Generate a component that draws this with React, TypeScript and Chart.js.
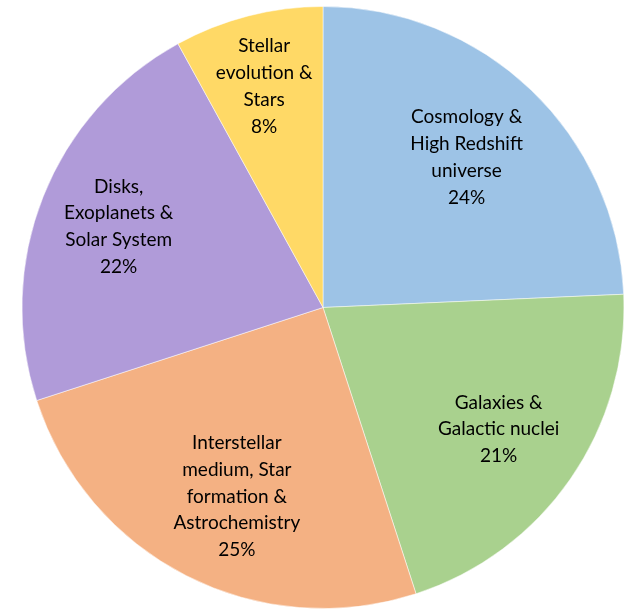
import React, { useEffect, useRef } from "react";
import { Chart, registerables } from "chart.js";

Chart.register(...registerables);

const categories = [
  "Cosmology & High Redshift universe",
  "Galaxies & Galactic nuclei",
  "Interstellar medium, Star formation & Astrochemistry",
  "Disks, Exoplanets & Solar System",
  "Stellar evolution & Stars",
];
const labelLines = [
  ["Cosmology &", "High Redshift", "universe"],
  ["Galaxies &", "Galactic nuclei"],
  ["Interstellar", "medium, Star", "formation &", "Astrochemistry"],
  ["Disks,", "Exoplanets &", "Solar System"],
  ["Stellar", "evolution &", "Stars"],
];
const shares = [24.3, 20.7, 25, 22, 8];
const colors = ["#9DC3E6", "#A9D18E", "#F4B183", "#B09BD9", "#FFD966"];
const labelRadiusFraction = [0.69, 0.71, 0.69, 0.73, 0.76];
const labelAngleShiftDeg = [0, 0, -2.5, 0, -0.5];

const sliceLabels = {
  id: "sliceLabels",
  afterDatasetsDraw(chart: any) {
    const ctx = chart.ctx;
    const meta = chart.getDatasetMeta(0);
    ctx.save();
    ctx.fillStyle = "#000000";
    ctx.font = "19px Lato, 'Open Sans', sans-serif";
    ctx.textAlign = "center";
    ctx.textBaseline = "middle";
    const lh = 26.8;
    meta.data.forEach((arc: any, i: number) => {
      const { x, y, startAngle, endAngle, outerRadius } = arc.getProps(
        ["x", "y", "startAngle", "endAngle", "outerRadius"],
        true
      );
      const mid = (startAngle + endAngle) / 2 + (labelAngleShiftDeg[i] * Math.PI) / 180;
      const r = outerRadius * labelRadiusFraction[i];
      const cx = x + Math.cos(mid) * r;
      const cy = y + Math.sin(mid) * r;
      const lines = [...labelLines[i], Math.round(shares[i]) + "%"];
      const top = cy - ((lines.length - 1) * lh) / 2;
      lines.forEach((t, k) => ctx.fillText(t, cx, top + k * lh));
    });
    ctx.restore();
  },
};

export default function App() {
  const ref = useRef<HTMLCanvasElement>(null);
  useEffect(() => {
    if (!ref.current) return;
    const chart = new Chart(ref.current, {
      type: "pie",
      data: {
        labels: categories,
        datasets: [
          {
            data: shares,
            backgroundColor: colors,
            borderColor: "rgba(255,255,255,0.5)",
            borderWidth: 1,
          },
        ],
      },
      options: {
        responsive: false,
        animation: false,
        layout: { padding: { left: 21, right: 0, top: 6, bottom: 0 } },
        plugins: {
          legend: { display: false },
          tooltip: { enabled: false },
        },
      },
      plugins: [sliceLabels],
    });
    return () => chart.destroy();
  }, []);
  return (
    <div style={{ position: "absolute", left: 0, top: 0, width: 625, height: 609, background: "#fff" }}>
      <canvas ref={ref} width={625} height={609} style={{ display: "block" }} />
    </div>
  );
}
